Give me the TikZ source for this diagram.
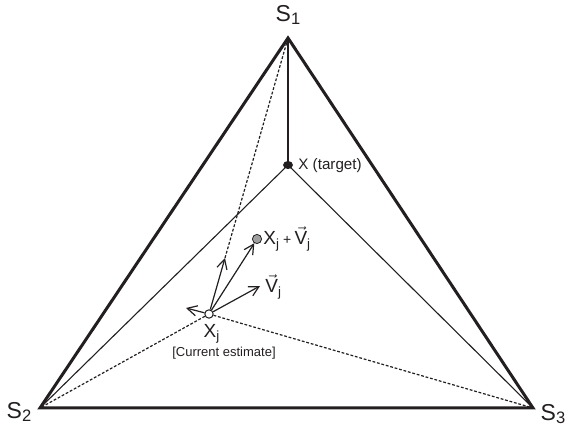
\documentclass[tikz,border=0pt]{standalone}
\usepackage{fontspec}
\setmainfont{Liberation Sans}
\usetikzlibrary{arrows.meta, positioning, shapes.geometric}
\definecolor{inkblack}{HTML}{231F20}
\definecolor{dotgray}{HTML}{A0A0A0}
\newcommand{\vecV}{$\vec{\mbox{V}}$}
\newcommand{\vsub}[1]{\raisebox{-0.12em}{\fontsize{0.72em}{0.72em}\selectfont #1}}

\begin{document}
\begin{tikzpicture}[x=0.5pt, y=-0.5pt, color=inkblack,
  edge/.style={line width=1.5pt, line join=miter},
  guide/.style={line width=0.55pt},
  trace/.style={line width=0.6pt, dash pattern=on 1.4pt off 0.9pt},
  vecarr/.style={-{Straight Barb[length=1.7mm, width=1.8mm]}, line width=0.6pt},
  lbl/.style={font=\fontsize{#1}{#1}\selectfont, inner sep=0pt},
]
  \useasboundingbox (0,0) rectangle (570,428);

  \coordinate (s1) at (288,38);
  \coordinate (s2) at (40,408);
  \coordinate (s3) at (533,408);
  \coordinate (tip1) at (225,258);
  \coordinate (tipv) at (260,286);
  \coordinate (tipl) at (186,308);

  \node[ellipse, fill=inkblack, minimum width=5pt, minimum height=4pt, inner sep=0pt] (target) at (288,165) {};
  \node[circle, draw, fill=white, line width=0.5pt, minimum size=4.2pt, inner sep=0pt] (xj) at (209,314) {};
  \node[circle, draw, fill=dotgray, line width=0.4pt, minimum size=4.6pt, inner sep=0pt] (xv) at (257,239) {};

  % triangle and lines to the target
  \draw[guide] (target.center) -- (s1);
  \draw[guide] (target.center) -- (s2);
  \draw[guide] (target.center) -- (s3);
  \draw[edge] (s1) -- (s2) -- (s3) -- cycle;

  % dotted paths from the estimate
  \draw[trace] (xj) -- (s2);
  \draw[trace] (xj) -- (s3);
  \draw[trace] (tip1) -- (s1);

  % velocity arrows
  \draw[vecarr] (xj) -- (tip1);
  \draw[vecarr] (xj) -- (xv);
  \draw[vecarr] (xj) -- (tipv);
  \draw[vecarr] (xj) -- (tipl);

  % labels
  \node[lbl=11.5pt] (s1lbl) at (288,15) {S\vsub{1}};
  \node[lbl=11.5pt] (s2lbl) at (19,412) {S\vsub{2}};
  \node[lbl=11.5pt] (s3lbl) at (553,414) {S\vsub{3}};
  \node[lbl=7.6pt, anchor=west] (tlbl) at (298,166) {X (target)};
  \node[lbl=9.5pt] (xjlbl) at (212,334) {X\textsubscript{j}};
  \node[lbl=6.5pt] (celbl) at (224,353) {[Current estimate]};
  \node[lbl=9.5pt, anchor=base west] (xvlbl) at (263,245) {X\textsubscript{j}\,{\fontsize{7pt}{7pt}\selectfont+}\,\vecV\textsubscript{j}};
  \node[lbl=9.5pt, anchor=base west] (vlbl) at (265,293) {\vecV\textsubscript{j}};
\end{tikzpicture}
\end{document}
